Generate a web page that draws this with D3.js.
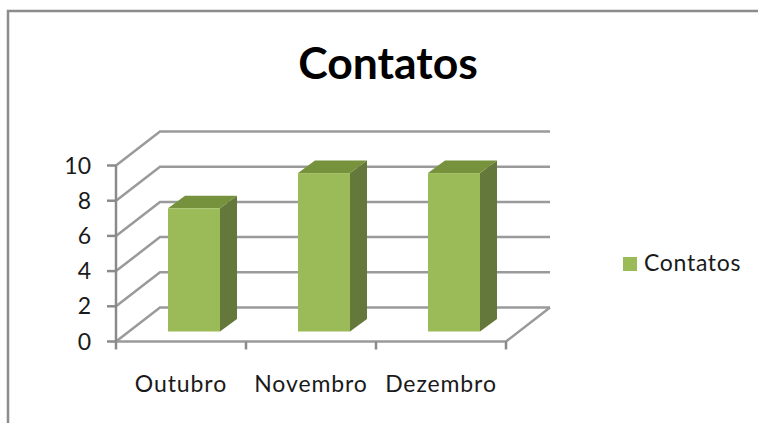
<!DOCTYPE html>
<html>
<head>
<meta charset="utf-8">
<script src="https://cdn.jsdelivr.net/npm/d3@7"></script>
<style>
  html, body { margin: 0; padding: 0; background: #fff; }
  svg { display: block; }
  text { font-family: Lato, "Open Sans", sans-serif; fill: #1a1a1a; }
</style>
</head>
<body>
<div id="chart"></div>
<script>
const categories = ["Outubro", "Novembro", "Dezembro"];
const contatos = [7, 9, 9];
const yTicks = [0, 2, 4, 6, 8, 10];
const seriesName = "Contatos";

const width = 758, height = 423;
const frontColor = "#9bbb59", topColor = "#76923c", sideColor = "#65783a", grid = "#9a9a9a";

// 3d offsets: back wall, bar position in the floor, bar depth
const wall = {dx: 44, dy: -34};
const inset = {dx: 13, dy: -10};
const depth = {dx: 17, dy: -12.5};

const x = d3.scaleBand().domain(categories).range([116, 506]);
const y = d3.scaleLinear().domain([0, 10]).range([341.5, 165.5]);
const barWidth = 52;

const svg = d3.select("#chart").append("svg").attr("width", width).attr("height", height);

const soft = svg.append("defs").append("filter").attr("id", "soft");
soft.append("feGaussianBlur").attr("stdDeviation", 0.45);

// frame, open on the right and bottom
svg.append("path")
  .attr("d", `M8,${height}V11H${width}`)
  .attr("fill", "none").attr("stroke", "#8c8c8c").attr("stroke-width", 2.5);

const plot = svg.append("g").attr("filter", "url(#soft)");

// gridlines run along the side wall and then the back wall
plot.selectAll(".grid").data(d3.range(0, 12, 2)).join("path")
  .attr("class", "grid")
  .attr("fill", "none").attr("stroke", grid).attr("stroke-width", 2.5)
  .attr("d", d => `M${x.range()[0]},${y(d)}l${wall.dx},${wall.dy}H${x.range()[1] + wall.dx}`);

// floor edge on the right and baseline
plot.append("path")
  .attr("fill", "none").attr("stroke", grid).attr("stroke-width", 2.5)
  .attr("d", `M${x.range()[0]},${y(0)}H${x.range()[1]}l${wall.dx},${wall.dy}`);

// value axis
plot.append("path")
  .attr("fill", "none").attr("stroke", "#8a8a8a").attr("stroke-width", 2.5)
  .attr("d", `M${x.range()[0]},${y(10)}V${y(0)}`);
plot.selectAll(".ytick").data(yTicks).join("line")
  .attr("class", "ytick")
  .attr("x1", x.range()[0] - 9).attr("x2", x.range()[0])
  .attr("y1", d => y(d)).attr("y2", d => y(d))
  .attr("stroke", "#8a8a8a").attr("stroke-width", 2.5);

// category axis ticks sit between the bands
const xEdges = categories.map(d => x(d)).concat(x.range()[1]);
plot.selectAll(".xtick").data(xEdges).join("line")
  .attr("class", "xtick")
  .attr("x1", d => d).attr("x2", d => d)
  .attr("y1", y(0)).attr("y2", y(0) + 8)
  .attr("stroke", "#8a8a8a").attr("stroke-width", 2.5);

// bars
const bar = plot.selectAll(".bar").data(contatos).join("g").attr("class", "bar");
const bx = (d, i) => x(categories[i]) + x.bandwidth() / 2 + inset.dx - barWidth / 2;
const by = d => y(d) + inset.dy;
const y0 = y(0) + inset.dy;

bar.append("path").attr("fill", sideColor)
  .attr("d", (d, i) => {
    const r = bx(d, i) + barWidth;
    return `M${r},${by(d)}l${depth.dx},${depth.dy}V${y0 + depth.dy}l${-depth.dx},${-depth.dy}Z`;
  });
bar.append("path").attr("fill", topColor)
  .attr("d", (d, i) => `M${bx(d, i)},${by(d)}l${depth.dx},${depth.dy}h${barWidth}l${-depth.dx},${-depth.dy}Z`);
bar.append("rect").attr("fill", frontColor)
  .attr("x", bx).attr("y", by)
  .attr("width", barWidth).attr("height", d => y0 - by(d));

// labels
svg.selectAll(".ylabel").data(yTicks).join("text")
  .attr("class", "ylabel")
  .attr("x", 91).attr("y", d => y(d) + 8)
  .attr("text-anchor", "end").attr("font-size", 23)
  .text(d => d);

svg.selectAll(".xlabel").data(categories).join("text")
  .attr("class", "xlabel")
  .attr("x", d => x(d) + x.bandwidth() / 2).attr("y", 392)
  .attr("text-anchor", "middle").attr("font-size", 23).attr("letter-spacing", 0.9)
  .text(d => d);

svg.append("text")
  .attr("x", 388).attr("y", 79)
  .attr("text-anchor", "middle").attr("font-size", 44.5).attr("font-weight", 700)
  .style("fill", "#000")
  .text(seriesName);

// legend
svg.append("rect").attr("x", 623).attr("y", 257).attr("width", 14).attr("height", 14).attr("fill", frontColor);
svg.append("text").attr("x", 644).attr("y", 271).attr("font-size", 23).attr("letter-spacing", 0.7).text(seriesName);
</script>
</body>
</html>
